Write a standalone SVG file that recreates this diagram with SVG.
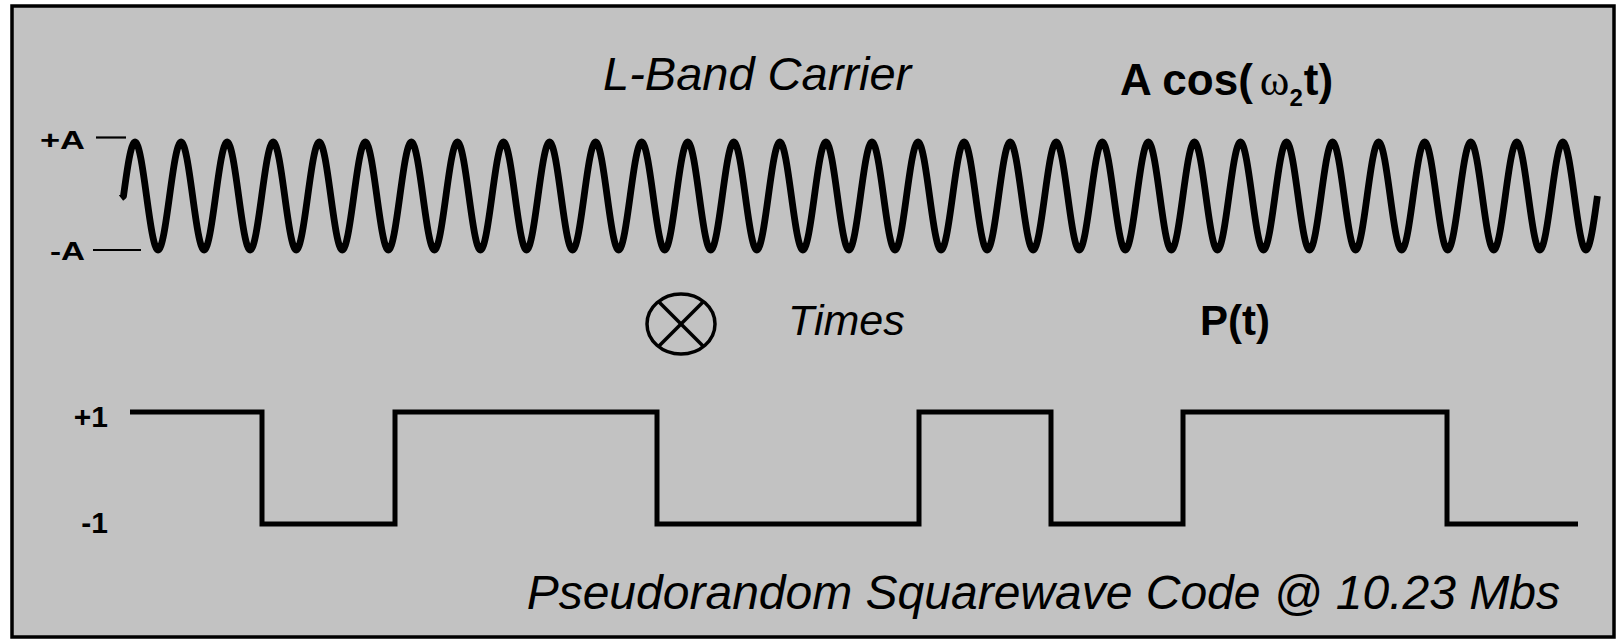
<svg xmlns="http://www.w3.org/2000/svg" width="1619" height="640" viewBox="0 0 1619 640">
<style>
.lbl{font-family:"Liberation Sans",Arial,sans-serif;fill:#000}
.b{font-weight:bold}
.i{font-style:italic}
.wave{fill:none;stroke:#000;stroke-width:6.8;stroke-linejoin:round;stroke-linecap:butt}
.sq{fill:none;stroke:#000;stroke-width:5;stroke-linejoin:miter}
.tick{stroke:#000;stroke-width:2.2}
</style>
<rect x="0" y="0" width="1619" height="640" fill="#fff"/>
<g id="frame">
<rect x="12" y="6" width="1602" height="631" fill="#c2c2c2" stroke="#000" stroke-width="3.5"/>
</g>
<g id="carrier">
<text class="lbl i" x="603" y="90" font-size="47">L-Band Carrier</text>
<text class="lbl b" x="1120" y="95" font-size="44">A cos(<tspan dx="7" font-family="Liberation Serif,serif" font-weight="normal" font-size="45">ω</tspan><tspan dy="11" font-size="24">2</tspan><tspan dx="1" dy="-11">t)</tspan></text>
<text class="lbl b" x="85" y="149" font-size="26" text-anchor="end" textLength="45" lengthAdjust="spacingAndGlyphs">+A</text>
<text class="lbl b" x="85" y="260" font-size="26" text-anchor="end" textLength="35" lengthAdjust="spacingAndGlyphs">-A</text>
<line class="tick" x1="96" y1="137.5" x2="126" y2="137.5"/>
<line class="tick" x1="93" y1="250" x2="141" y2="250"/>
<path id="sine" class="wave" d="M121,198 L123.5,196 c3.754,-27.66 7.46,-54 11.515,-54 s7.761,26.34 11.515,54 s7.46,54 11.515,54 s7.761,-26.34 11.515,-54
s7.46,-54 11.515,-54 s7.761,26.34 11.515,54 s7.46,54 11.515,54 s7.761,-26.34 11.515,-54
s7.46,-54 11.515,-54 s7.761,26.34 11.515,54 s7.46,54 11.515,54 s7.761,-26.34 11.515,-54
s7.46,-54 11.515,-54 s7.761,26.34 11.515,54 s7.46,54 11.515,54 s7.761,-26.34 11.515,-54
s7.46,-54 11.515,-54 s7.761,26.34 11.515,54 s7.46,54 11.515,54 s7.761,-26.34 11.515,-54
s7.46,-54 11.515,-54 s7.761,26.34 11.515,54 s7.46,54 11.515,54 s7.761,-26.34 11.515,-54
s7.46,-54 11.515,-54 s7.761,26.34 11.515,54 s7.46,54 11.515,54 s7.761,-26.34 11.515,-54
s7.46,-54 11.515,-54 s7.761,26.34 11.515,54 s7.46,54 11.515,54 s7.761,-26.34 11.515,-54
s7.46,-54 11.515,-54 s7.761,26.34 11.515,54 s7.46,54 11.515,54 s7.761,-26.34 11.515,-54
s7.46,-54 11.515,-54 s7.761,26.34 11.515,54 s7.46,54 11.515,54 s7.761,-26.34 11.515,-54
s7.46,-54 11.515,-54 s7.761,26.34 11.515,54 s7.46,54 11.515,54 s7.761,-26.34 11.515,-54
s7.46,-54 11.515,-54 s7.761,26.34 11.515,54 s7.46,54 11.515,54 s7.761,-26.34 11.515,-54
s7.46,-54 11.515,-54 s7.761,26.34 11.515,54 s7.46,54 11.515,54 s7.761,-26.34 11.515,-54
s7.46,-54 11.515,-54 s7.761,26.34 11.515,54 s7.46,54 11.515,54 s7.761,-26.34 11.515,-54
s7.46,-54 11.515,-54 s7.761,26.34 11.515,54 s7.46,54 11.515,54 s7.761,-26.34 11.515,-54
s7.46,-54 11.515,-54 s7.761,26.34 11.515,54 s7.46,54 11.515,54 s7.761,-26.34 11.515,-54
s7.46,-54 11.515,-54 s7.761,26.34 11.515,54 s7.46,54 11.515,54 s7.761,-26.34 11.515,-54
s7.46,-54 11.515,-54 s7.761,26.34 11.515,54 s7.46,54 11.515,54 s7.761,-26.34 11.515,-54
s7.46,-54 11.515,-54 s7.761,26.34 11.515,54 s7.46,54 11.515,54 s7.761,-26.34 11.515,-54
s7.46,-54 11.515,-54 s7.761,26.34 11.515,54 s7.46,54 11.515,54 s7.761,-26.34 11.515,-54
s7.46,-54 11.515,-54 s7.761,26.34 11.515,54 s7.46,54 11.515,54 s7.761,-26.34 11.515,-54
s7.46,-54 11.515,-54 s7.761,26.34 11.515,54 s7.46,54 11.515,54 s7.761,-26.34 11.515,-54
s7.46,-54 11.515,-54 s7.761,26.34 11.515,54 s7.46,54 11.515,54 s7.761,-26.34 11.515,-54
s7.46,-54 11.515,-54 s7.761,26.34 11.515,54 s7.46,54 11.515,54 s7.761,-26.34 11.515,-54
s7.46,-54 11.515,-54 s7.761,26.34 11.515,54 s7.46,54 11.515,54 s7.761,-26.34 11.515,-54
s7.46,-54 11.515,-54 s7.761,26.34 11.515,54 s7.46,54 11.515,54 s7.761,-26.34 11.515,-54
s7.46,-54 11.515,-54 s7.761,26.34 11.515,54 s7.46,54 11.515,54 s7.761,-26.34 11.515,-54
s7.46,-54 11.515,-54 s7.761,26.34 11.515,54 s7.46,54 11.515,54 s7.761,-26.34 11.515,-54
s7.46,-54 11.515,-54 s7.761,26.34 11.515,54 s7.46,54 11.515,54 s7.761,-26.34 11.515,-54
s7.46,-54 11.515,-54 s7.761,26.34 11.515,54 s7.46,54 11.515,54 s7.761,-26.34 11.515,-54
s7.46,-54 11.515,-54 s7.761,26.34 11.515,54 s7.46,54 11.515,54 s7.761,-26.34 11.515,-54
s7.46,-54 11.515,-54 s7.761,26.34 11.515,54 s7.46,54 11.515,54 s7.761,-26.34 11.515,-54"/>
</g>
<g id="times">
<ellipse cx="681" cy="324" rx="34" ry="30" fill="none" stroke="#000" stroke-width="3.5"/>
<line x1="658.5" y1="301.5" x2="703.5" y2="346.5" stroke="#000" stroke-width="3.5"/>
<line x1="703.5" y1="301.5" x2="658.5" y2="346.5" stroke="#000" stroke-width="3.5"/>
<text class="lbl i" x="788" y="335" font-size="43">Times</text>
<text class="lbl b" x="1200" y="335" font-size="42">P(t)</text>
</g>
<g id="code">
<text class="lbl b" x="108" y="427" font-size="30" text-anchor="end">+1</text>
<text class="lbl b" x="108" y="533" font-size="30" text-anchor="end">-1</text>
<path class="sq" d="M130,412 H262 V524 H395 V412 H657 V524 H919 V412 H1051 V524 H1183 V412 H1447 V524 H1578"/>
<text class="lbl i" x="1560" y="609" font-size="48" text-anchor="end">Pseudorandom Squarewave Code @ 10.23 Mbs</text>
</g>
</svg>
